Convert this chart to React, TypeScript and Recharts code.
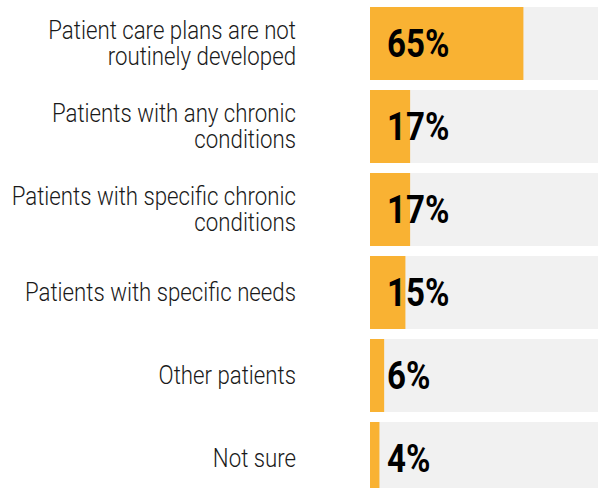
import React from 'react';
import { BarChart, Bar, XAxis, YAxis, LabelList } from 'recharts';

const categories = [
  'Patient care plans are not\nroutinely developed',
  'Patients with any chronic\nconditions',
  'Patients with specific chronic\nconditions',
  'Patients with specific needs',
  'Other patients',
  'Not sure',
];
const values = [65, 17, 17, 15, 6, 4];

const data = categories.map((name, i) => ({ name, value: values[i] }));

const FONT = 'Roboto, "Liberation Sans", sans-serif';

// condensed look: squeeze the text horizontally
const CategoryTick = (props: any) => {
  const { x, y, payload } = props;
  const lines: string[] = String(payload.value).split('\n');
  const lh = 26;
  const start = -((lines.length - 1) * lh) / 2;
  return (
    <text
      transform={`translate(${x},${y}) scale(0.89,1)`}
      textAnchor="end"
      fontFamily={FONT}
      fontWeight={300}
      fontSize={25}
      fill="#1a1a1a"
    >
      {lines.map((l, i) => (
        <tspan key={i} x={0} y={start + i * lh} dy="0.35em">
          {l}
        </tspan>
      ))}
    </text>
  );
};

const ValueLabel = (props: any) => {
  const { x, y, height, value } = props;
  return (
    <text
      transform={`translate(${x + 17},${y + height / 2}) scale(0.87,1)`}
      dy="0.36em"
      fontFamily={FONT}
      fontWeight="bold"
      fontSize={38}
      fill="#000"
    >
      {value}%
    </text>
  );
};

export default function App() {
  return (
    <div
      style={{
        position: 'absolute',
        top: 0,
        left: 0,
        width: 598,
        height: 488,
        overflow: 'hidden',
        background: '#fff',
      }}
    >
      <BarChart
        width={606}
        height={500}
        data={data}
        layout="vertical"
        margin={{ top: 2, right: 0, bottom: 0, left: 0 }}
      >
        <XAxis type="number" domain={[0, 100]} hide />
        <YAxis
          type="category"
          dataKey="name"
          width={370}
          axisLine={false}
          tickLine={false}
          tickMargin={0}
          tick={(p: any) => <CategoryTick {...p} x={296} />}
          interval={0}
        />
        <Bar
          dataKey="value"
          fill="#F9B233"
          barSize={73}
          background={{ fill: '#F1F1F1' }}
          isAnimationActive={false}
        >
          <LabelList dataKey="value" content={<ValueLabel />} />
        </Bar>
      </BarChart>
    </div>
  );
}
